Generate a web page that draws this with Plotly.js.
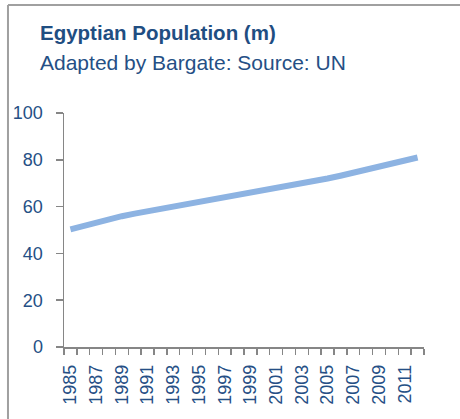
<!DOCTYPE html>
<html>
<head>
<meta charset="utf-8">
<script src="https://cdn.plot.ly/plotly-3.0.1.min.js"></script>
<style>
  html, body { margin: 0; padding: 0; background: #ffffff; }
  #chart { width: 460px; height: 419px; }
</style>
</head>
<body>
<div id="chart"></div>
<script>
const years = [1985, 1986, 1987, 1988, 1989, 1990, 1991, 1992, 1993, 1994,
               1995, 1996, 1997, 1998, 1999, 2000, 2001, 2002, 2003, 2004,
               2005, 2006, 2007, 2008, 2009, 2010, 2011, 2012];
const population = [50.3, 51.8, 53.2, 54.6, 55.9, 57.0, 58.0, 59.0, 59.9, 60.8,
                    61.7, 62.6, 63.5, 64.4, 65.4, 66.4, 67.5, 68.6, 69.8, 70.9,
                    72.0, 73.2, 74.4, 75.6, 76.9, 78.2, 79.6, 81.0];
const labelYears = [1985, 1987, 1989, 1991, 1993, 1995, 1997, 1999, 2001, 2003, 2005, 2007, 2009, 2011];
const yTicks = [0, 20, 40, 60, 80, 100];
const chartTitle = "Egyptian Population (m)";
const chartSubtitle = "Adapted by Bargate: Source: UN";

const textColor = "#254f85";
const axisColor = "#868686";
const font = "'Liberation Sans', Arial, sans-serif";

const trace = {
  x: years,
  y: population,
  type: "scatter",
  mode: "lines",
  line: { color: "#8db3e2", width: 6 },
  hoverinfo: "skip"
};

const layout = {
  width: 460,
  height: 419,
  margin: { l: 64, r: 36, t: 113, b: 72 },
  paper_bgcolor: "#ffffff",
  plot_bgcolor: "#ffffff",
  showlegend: false,
  font: { family: font, color: textColor, size: 18 },
  xaxis: {
    type: "linear",
    range: [1984.5, 2012.5],
    tickmode: "array",
    tickvals: labelYears,
    ticktext: labelYears.map(String),
    tickangle: -90,
    ticks: "",
    ticklabelstandoff: 9,
    showgrid: false,
    zeroline: false,
    showline: true,
    linecolor: axisColor,
    linewidth: 1.5,
    tickfont: { family: font, size: 18, color: textColor },
    minor: {
      tickmode: "linear",
      tick0: 1984.5,
      dtick: 1,
      ticks: "outside",
      ticklen: 6,
      tickwidth: 1.5,
      tickcolor: axisColor,
      showgrid: false
    },
    automargin: false,
    fixedrange: true
  },
  yaxis: {
    range: [0, 100],
    tickmode: "array",
    tickvals: yTicks,
    ticks: "outside",
    ticklen: 7,
    tickwidth: 1.5,
    tickcolor: axisColor,
    ticklabelstandoff: 9,
    showgrid: false,
    zeroline: false,
    showline: true,
    linecolor: axisColor,
    linewidth: 1.5,
    tickfont: { family: font, size: 18, color: textColor },
    automargin: false,
    fixedrange: true
  },
  annotations: [
    {
      text: "<b>" + chartTitle + "</b>",
      xref: "paper", yref: "paper",
      x: -0.0722, y: 1.342,
      xanchor: "left", yanchor: "middle",
      showarrow: false,
      font: { family: font, size: 20.5, color: "#1f4e82" }
    },
    {
      text: chartSubtitle,
      xref: "paper", yref: "paper",
      x: -0.0722, y: 1.216,
      xanchor: "left", yanchor: "middle",
      showarrow: false,
      font: { family: font, size: 21, color: "#254f85" }
    }
  ],
  shapes: [
    {
      type: "line", xref: "paper", yref: "paper",
      x0: -0.1556, x1: 1.11, y0: 1.4615, y1: 1.4615,
      line: { color: "#a0a0a0", width: 2 }
    },
    {
      type: "line", xref: "paper", yref: "paper",
      x0: -0.1556, x1: -0.1556, y0: 1.4615, y1: -0.32,
      line: { color: "#a0a0a0", width: 2 }
    }
  ]
};

Plotly.newPlot("chart", [trace], layout, { staticPlot: true, displayModeBar: false });
</script>
</body>
</html>
